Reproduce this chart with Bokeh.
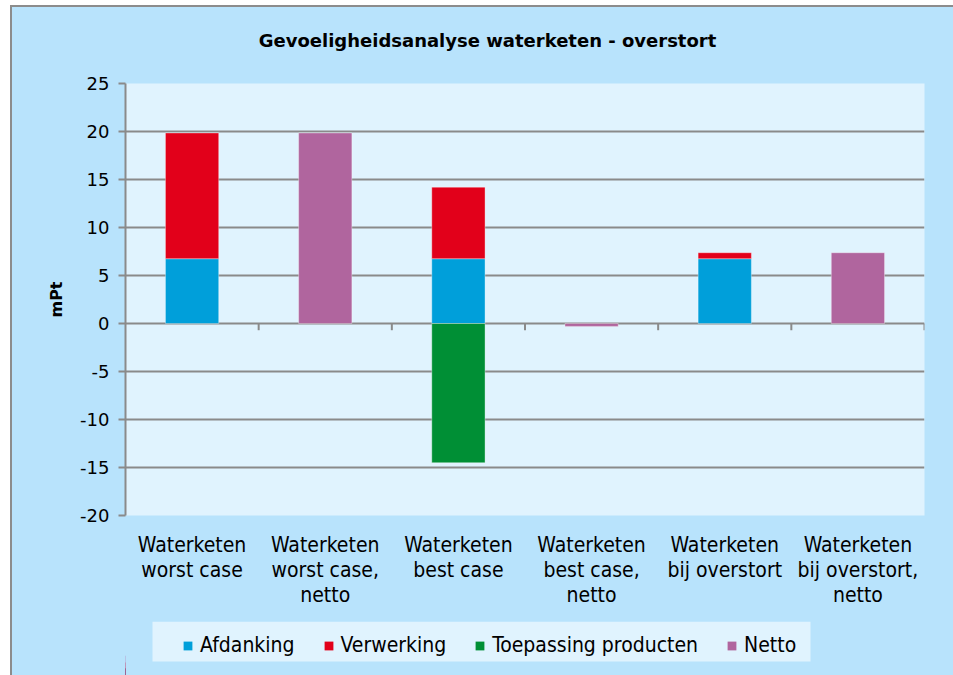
from bokeh.plotting import figure
from bokeh.layouts import column
from bokeh.models import (ColumnDataSource, FixedTicker, Legend, LegendItem, Range1d, Label)
from bokeh.embed import file_html
from bokeh.resources import INLINE

# ---- data ----
categories = ["Waterketen\nworst case", "Waterketen\nworst case,\nnetto",
              "Waterketen\nbest case", "Waterketen\nbest case,\nnetto",
              "Waterketen\nbij overstort", "Waterketen\nbij overstort,\nnetto"]
afdanking = [6.75, 0, 6.75, 0, 6.75, 0]
verwerking = [13.1, 0, 7.45, 0, 0.62, 0]
toepassing = [0, 0, -14.5, 0, 0, 0]
netto = [0, 19.85, 0, -0.3, 0, 7.37]
series_names = ["Afdanking", "Verwerking", "Toepassing producten", "Netto"]
series_colors = ["#009FDA", "#E2001A", "#008F35", "#B0659E"]
y_ticks = [-20, -15, -10, -5, 0, 5, 10, 15, 20, 25]
title_text = "Gevoeligheidsanalyse waterketen - overstort"
y_label = "mPt"

FONT = "DejaVu Sans"
CFONT = "DejaVu Sans Condensed"
GRID = "#8A8A8A"
OUTER = "#B8E3FC"
INNER = "#E0F3FE"
EDGE = "2px solid #8C8C8C"
n = len(categories)
xs = [i + 0.5 for i in range(n)]
W = 941
X0, X1 = 125, 924          # page x of the plot frame (all strips share it)


def src(bottoms, tops):
    d = dict(x=[], b=[], t=[])
    for xv, b, t in zip(xs, bottoms, tops):
        if t != b:
            d["x"].append(xv); d["b"].append(b); d["t"].append(t)
    return ColumnDataSource(d)


def strip(height):
    f = figure(width=W, height=height, x_range=Range1d(X0, X1), y_range=Range1d(0, height),
               output_backend="svg", toolbar_location=None, x_axis_location=None, y_axis_location=None,
               min_border=0, min_border_left=0, min_border_right=0, min_border_top=0, min_border_bottom=0,
               background_fill_color=None, border_fill_color=None, outline_line_color=None)
    f.xgrid.visible = False
    f.ygrid.visible = False
    return f


# ---- title strip ----
TH = 60
t = strip(TH)
t.add_layout(Label(x=487, y=TH - 33, text=title_text, text_align="center", text_baseline="middle",
                   text_font=FONT, text_font_style="bold", text_font_size="18px", text_color="black"))

# ---- main chart ----
p = figure(width=W, height=554, x_range=Range1d(0, n), y_range=Range1d(y_ticks[0], y_ticks[-1]),
           output_backend="svg", toolbar_location=None,
           min_border_left=113, min_border_right=29, min_border_top=16, min_border_bottom=106,
           background_fill_color=INNER, border_fill_color=OUTER, outline_line_color=None)

bw = 0.4
ver_top = [a + v for a, v in zip(afdanking, verwerking)]
bar_style = dict(line_color="white", line_alpha=0.35)
r_afd = p.vbar(x="x", bottom="b", top="t", width=bw, source=src([0] * n, afdanking),
               fill_color=series_colors[0], **bar_style)
r_ver = p.vbar(x="x", bottom="b", top="t", width=bw, source=src(afdanking, ver_top),
               fill_color=series_colors[1], **bar_style)
r_toe = p.vbar(x="x", bottom="b", top="t", width=bw, source=src([0] * n, toepassing),
               fill_color=series_colors[2], **bar_style)
r_net = p.vbar(x="x", bottom="b", top="t", width=bw, source=src([0] * n, netto),
               fill_color=series_colors[3], **bar_style)

# category axis line at zero with boundary ticks
p.segment(x0=list(range(1, n + 1)), y0=[0] * n, x1=list(range(1, n + 1)), y1=[-0.7] * n,
          line_color=GRID, line_width=2)

# grid
p.xgrid.visible = False
p.ygrid.ticker = FixedTicker(ticks=y_ticks)
p.ygrid.grid_line_color = GRID
p.ygrid.grid_line_width = 2

# y axis
p.yaxis.ticker = FixedTicker(ticks=y_ticks)
p.yaxis.major_label_overrides = {tk: str(tk) for tk in y_ticks}
p.yaxis.axis_line_color = GRID
p.yaxis.axis_line_width = 2
p.yaxis.major_tick_line_color = GRID
p.yaxis.major_tick_line_width = 2
p.yaxis.major_tick_out = 7
p.yaxis.major_tick_in = 0
p.yaxis.minor_tick_line_color = None
p.yaxis.major_label_text_font = FONT
p.yaxis.major_label_text_font_size = "18px"
p.yaxis.major_label_text_color = "black"
p.yaxis.major_label_standoff = 9
p.yaxis.axis_label = y_label
p.yaxis.axis_label_text_font = FONT
p.yaxis.axis_label_text_font_size = "16px"
p.yaxis.axis_label_text_font_style = "bold"
p.yaxis.axis_label_text_color = "black"
p.yaxis.axis_label_standoff = 11

# x axis
p.xaxis.ticker = FixedTicker(ticks=xs)
p.xaxis.major_label_overrides = {xv: c for xv, c in zip(xs, categories)}
p.xaxis.axis_line_color = None
p.xaxis.major_tick_line_color = None
p.xaxis.minor_tick_line_color = None
p.xaxis.major_label_text_font = CFONT
p.xaxis.major_label_text_font_size = "21px"
p.xaxis.major_label_text_line_height = 1.05
p.xaxis.major_label_text_color = "black"
p.xaxis.major_label_standoff = 11

# ---- legend strip ----
LH = 54
q = strip(LH)
q.quad(left=[152], right=[810], bottom=[LH - 40], top=[LH], fill_color=INNER, line_color=None)
series_values = [afdanking, verwerking, toepassing, netto]
keys = [q.vbar(x=xs, top=v, width=0, fill_color=c, line_color=None)
        for v, c in zip(series_values, series_colors)]

legend = Legend(items=[LegendItem(label=nm, renderers=[r]) for nm, r in zip(series_names, keys)],
                orientation="horizontal", location=(57, LH - 36),
                background_fill_alpha=0.0, border_line_color=None,
                label_text_font=CFONT, label_text_font_size="21px", label_text_color="black",
                padding=8, spacing=28, label_standoff=7, glyph_width=11, glyph_height=11, margin=0)
q.add_layout(legend)

layout = column(t, p, q, spacing=0, margin=(5, 0, 0, 10),
                styles={"background-color": OUTER, "border-left": EDGE, "border-top": EDGE})
open("out.html", "w").write(file_html(layout, INLINE))
